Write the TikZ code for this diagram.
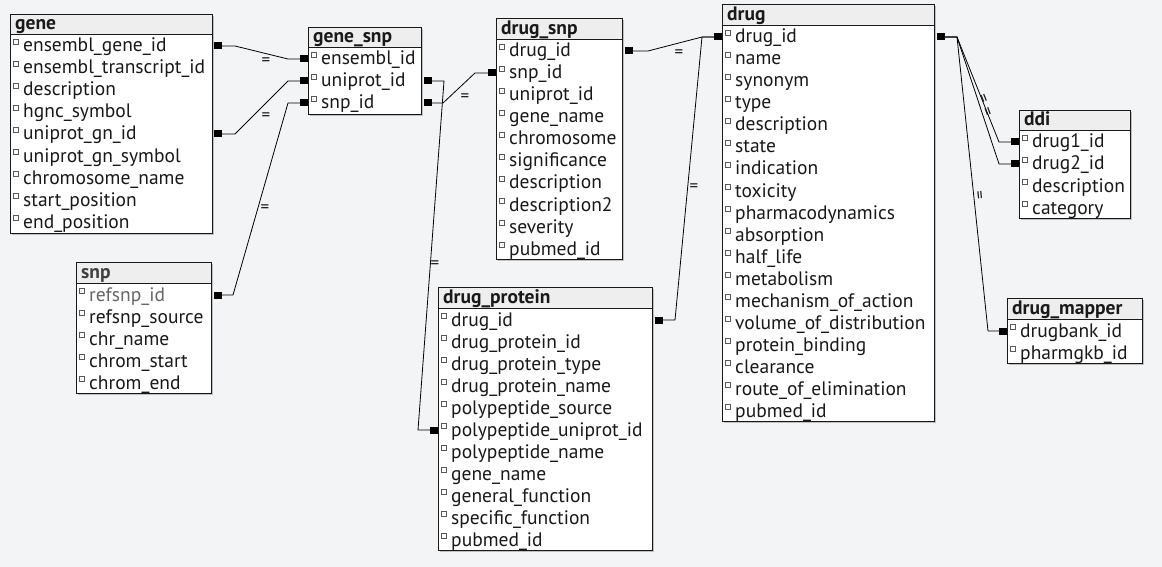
\documentclass[tikz,border=0pt]{standalone}
\usepackage{fontspec}
\setmainfont{PT Sans}
\definecolor{bg}{RGB}{243,244,246}
\definecolor{headfill}{RGB}{238,238,238}
\definecolor{ink}{RGB}{25,25,25}

\begin{document}
\begin{tikzpicture}[x=1pt, y=-1pt,
    tab/.style={draw=ink, fill=white, line width=0.9pt},
    headbox/.style={draw=ink, fill=headfill, line width=0.9pt},
    shade/.style={fill=black!25},
    title/.style={anchor=base west, inner sep=0pt, text=ink, font=\fontsize{19.5}{19.5}\selectfont\bfseries},
    field/.style={anchor=base west, inner sep=0pt, text=ink, font=\fontsize{19.5}{19.5}\selectfont},
    chk/.style={draw=black!65, fill=white, line width=0.5pt},
    key/.style={fill=black, inner sep=0pt, minimum width=8pt, minimum height=7pt},
    link/.style={draw=black, line width=0.8pt},
    eq/.style={inner sep=0pt, text=ink, font=\fontsize{17}{17}\selectfont}]
    % Hintergrund
    \fill[bg] (0,0) rectangle (1162,567);

    % Tabelle gene
    \fill[shade] (12,16) rectangle (214,235);
    \draw[tab] (10,14) rectangle (212,233);
    \draw[headbox] (10,14) rectangle (212,34);
    \node[title] (gene) at (15,29.5) {gene};
    \foreach \f [count=\i] in {ensembl\_gene\_id, ensembl\_transcript\_id, description, hgnc\_symbol,
        uniprot\_gn\_id, uniprot\_gn\_symbol, chromosome\_name, start\_position, end\_position} {
        \draw[chk] (13.5,{39+22*(\i-1)}) rectangle ++(5,5);
        \node[field] (gene-\i) at (23,{52+22*(\i-1)}) {\f};
    }

    % Tabelle gene_snp
    \fill[shade] (310,29) rectangle (423,116);
    \draw[tab] (308,27) rectangle (421,114);
    \draw[headbox] (308,27) rectangle (421,47);
    \node[title] (genesnp) at (313,42.5) {gene\_snp};
    \foreach \f [count=\i] in {ensembl\_id, uniprot\_id, snp\_id} {
        \draw[chk] (311.5,{52+22*(\i-1)}) rectangle ++(5,5);
        \node[field] (genesnp-\i) at (321,{65+22*(\i-1)}) {\f};
    }

    % Tabelle drug_snp
    \fill[shade] (498,20) rectangle (624,261);
    \draw[tab] (496,18) rectangle (622,259);
    \draw[headbox] (496,18) rectangle (622,39);
    \node[title] (drugsnp) at (501,34.5) {drug\_snp};
    \foreach \f [count=\i] in {drug\_id, snp\_id, uniprot\_id, gene\_name, chromosome, significance,
        description, description2, severity, pubmed\_id} {
        \draw[chk] (499.5,{44+22*(\i-1)}) rectangle ++(5,5);
        \node[field] (drugsnp-\i) at (509,{57+22*(\i-1)}) {\f};
    }

    % Tabelle drug
    \fill[shade] (724,6) rectangle (936,423);
    \draw[tab] (722,4) rectangle (934,421);
    \draw[headbox] (722,4) rectangle (934,25);
    \node[title] (drug) at (727,20.5) {drug};
    \foreach \f [count=\i] in {drug\_id, name, synonym, type, description, state, indication, toxicity,
        pharmacodynamics, absorption, half\_life, metabolism, mechanism\_of\_action,
        volume\_of\_distribution, protein\_binding, clearance, route\_of\_elimination, pubmed\_id} {
        \draw[chk] (725.5,{30+22*(\i-1)}) rectangle ++(5,5);
        \node[field] (drug-\i) at (735,{43+22*(\i-1)}) {\f};
    }

    % Tabelle ddi
    \fill[shade] (1021,112) rectangle (1132,220);
    \draw[tab] (1019,110) rectangle (1130,218);
    \draw[headbox] (1019,110) rectangle (1130,130);
    \node[title] (ddi) at (1024,125.5) {ddi};
    \foreach \f [count=\i] in {drug1\_id, drug2\_id, description, category} {
        \draw[chk] (1022.5,{135+22*(\i-1)}) rectangle ++(5,5);
        \node[field] (ddi-\i) at (1032,{148+22*(\i-1)}) {\f};
    }

    % Tabelle drug_mapper
    \fill[shade] (1009,300) rectangle (1144,365);
    \draw[tab] (1007,298) rectangle (1142,363);
    \draw[headbox] (1007,298) rectangle (1142,319);
    \node[title] (drugmapper) at (1012,314.5) {drug\_mapper};
    \foreach \f [count=\i] in {drugbank\_id, pharmgkb\_id} {
        \draw[chk] (1010.5,{324+22*(\i-1)}) rectangle ++(5,5);
        \node[field] (drugmapper-\i) at (1020,{337+22*(\i-1)}) {\f};
    }

    % Tabelle snp
    \fill[shade] (78,264) rectangle (213,395);
    \draw[tab] (76,262) rectangle (211,393);
    \draw[headbox] (76,262) rectangle (211,283);
    \node[title, text=black!75] (snp) at (81,278.5) {snp};
    \draw[chk] (79.5,288) rectangle ++(5,5);
    \node[field, text=black!60] (snp-1) at (89,301) {refsnp\_id};
    \foreach \f [count=\i from 2] in {refsnp\_source, chr\_name, chrom\_start, chrom\_end} {
        \draw[chk] (79.5,{288+22*(\i-1)}) rectangle ++(5,5);
        \node[field] (snp-\i) at (89,{301+22*(\i-1)}) {\f};
    }

    % Tabelle drug_protein
    \fill[shade] (440,289) rectangle (654,552);
    \draw[tab] (438,287) rectangle (652,550);
    \draw[headbox] (438,287) rectangle (652,308);
    \node[title] (drugprotein) at (443,303.5) {drug\_protein};
    \foreach \f [count=\i] in {drug\_id, drug\_protein\_id, drug\_protein\_type, drug\_protein\_name,
        polypeptide\_source, polypeptide\_uniprot\_id, polypeptide\_name, gene\_name,
        general\_function, specific\_function, pubmed\_id} {
        \draw[chk] (441.5,{313+22*(\i-1)}) rectangle ++(5,5);
        \node[field] (drugprotein-\i) at (451,{326+22*(\i-1)}) {\f};
    }

    % Schluessel
    \node[key] (gene-k1) at (218,46) {};
    \node[key] (gene-k5) at (218,134) {};
    \node[key] (snp-k1) at (218,295) {};
    \node[key] (genesnp-l1) at (304,59) {};
    \node[key] (genesnp-l2) at (304,81) {};
    \node[key] (genesnp-l3) at (304,103) {};
    \node[key] (genesnp-r2) at (428,81) {};
    \node[key] (genesnp-r3) at (428,103) {};
    \node[key] (drugsnp-l2) at (492,73) {};
    \node[key] (drugsnp-r1) at (629,51) {};
    \node[key] (drugprotein-l6) at (434,430) {};
    \node[key] (drugprotein-r1) at (659,320) {};
    \node[key] (drug-l1) at (718,37) {};
    \node[key] (drug-r1) at (941,37) {};
    \node[key] (ddi-l1) at (1015,142) {};
    \node[key] (ddi-l2) at (1015,164) {};
    \node[key] (drugmapper-l1) at (1003,331) {};

    % Beziehungen
    \draw[link] (gene-k1.east) -- (235,46) -- (288,59) -- (genesnp-l1.west);
    \draw[link] (gene-k5.east) -- (235,134) -- (288,81) -- (genesnp-l2.west);
    \draw[link] (snp-k1.east) -- (233,295) -- (288,103) -- (genesnp-l3.west);
    \draw[link] (genesnp-r2.east) -- (444,81) -- (418,430) -- (drugprotein-l6.west);
    \draw[link] (genesnp-r3.east) -- (443,103) -- (475,73) -- (drugsnp-l2.west);
    \draw[link] (drugsnp-r1.east) -- (648,51) -- (702,37) -- (drug-l1.west);
    \draw[link] (drugprotein-r1.east) -- (675,320) -- (702,37) -- (drug-l1.west);
    \draw[link] (drug-r1.east) -- (957,37) -- (999,142) -- (ddi-l1.west);
    \draw[link] (drug-r1.east) -- (957,37) -- (999,164) -- (ddi-l2.west);
    \draw[link] (drug-r1.east) -- (957,37) -- (988,331) -- (drugmapper-l1.west);

    \node[eq] (eq1) at (266,62) {=};
    \node[eq] (eq2) at (266,117) {=};
    \node[eq] (eq3) at (265,209) {=};
    \node[eq] (eq4) at (435,265) {=};
    \node[eq] (eq5) at (465,98) {=};
    \node[eq] (eq6) at (679,54) {=};
    \node[eq] (eq7) at (694,188) {=};
    \node[eq, rotate=-68] (eq8) at (982,99) {=};
    \node[eq, rotate=-70] (eq9) at (986,112) {=};
    \node[eq, rotate=-84] (eq10) at (978,195) {=};
\end{tikzpicture}
\end{document}
